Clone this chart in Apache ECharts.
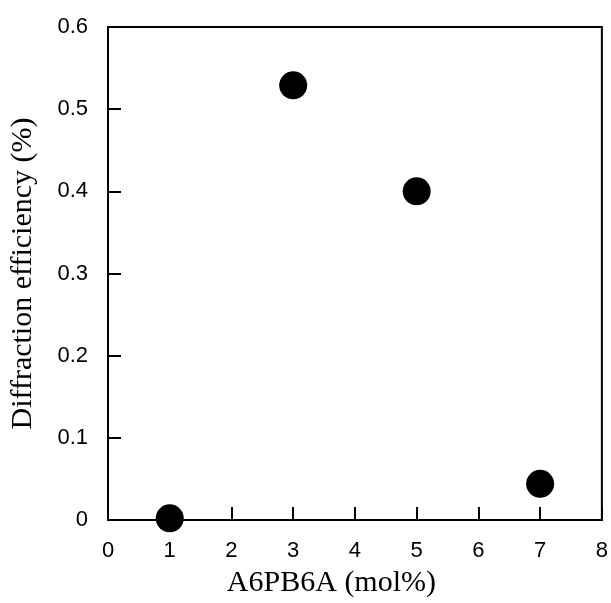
<!DOCTYPE html>
<html>
<head>
<meta charset="utf-8">
<script src="https://cdn.jsdelivr.net/npm/echarts@6/dist/echarts.min.js"></script>
<style>
  html, body { margin: 0; padding: 0; background: #fff; }
  #chart { width: 611px; height: 603px; }
</style>
</head>
<body>
<div id="chart"></div>
<script>
// A6PB6A content (mol%) and measured diffraction efficiency (%)
const molPercent = [1, 3, 5, 7];
const diffractionEfficiency = [0.002, 0.529, 0.400, 0.044];

const xTicks = { min: 0, max: 8, interval: 1 };
const yTicks = { min: 0, max: 0.6, interval: 0.1 };

const points = molPercent.map((x, i) => [x, diffractionEfficiency[i]]);

const chart = echarts.init(document.getElementById('chart'), null, { renderer: 'canvas' });

const tickFont = { color: '#000', fontFamily: 'Liberation Sans, Arial, sans-serif', fontSize: 22 };
const titleFont = { color: '#000', fontFamily: 'Liberation Serif, Times New Roman, serif', fontSize: 30 };

chart.setOption({
  backgroundColor: '#fff',
  animation: false,
  grid: {
    left: 108, right: 6, top: 27, bottom: 80,
    show: true, borderColor: '#000', borderWidth: 2, backgroundColor: 'transparent'
  },
  xAxis: {
    type: 'value',
    min: xTicks.min, max: xTicks.max, interval: xTicks.interval,
    name: 'A6PB6A (mol%)',
    nameLocation: 'middle',
    nameGap: 48,
    nameTextStyle: Object.assign({ padding: [0, 47, 0, 0] }, titleFont),
    axisLine: { show: true, lineStyle: { color: '#000', width: 2 } },
    axisTick: { show: true, inside: true, length: 13, lineStyle: { color: '#000', width: 2 } },
    axisLabel: Object.assign({ margin: 20 }, tickFont),
    splitLine: { show: false }
  },
  yAxis: {
    type: 'value',
    min: yTicks.min, max: yTicks.max, interval: yTicks.interval,
    name: 'Diffraction efficiency (%)',
    nameLocation: 'middle',
    nameGap: 70,
    nameTextStyle: titleFont,
    axisLine: { show: true, lineStyle: { color: '#000', width: 2 } },
    axisTick: { show: true, inside: true, length: 13, lineStyle: { color: '#000', width: 2 } },
    axisLabel: Object.assign({
      margin: 20,
      formatter: v => (v === 0 ? '0' : v.toFixed(1))
    }, tickFont),
    splitLine: { show: false }
  },
  series: [{
    type: 'scatter',
    data: points,
    symbol: 'circle',
    symbolSize: 28,
    clip: false,
    itemStyle: { color: '#000', opacity: 1 }
  }]
});
</script>
</body>
</html>
